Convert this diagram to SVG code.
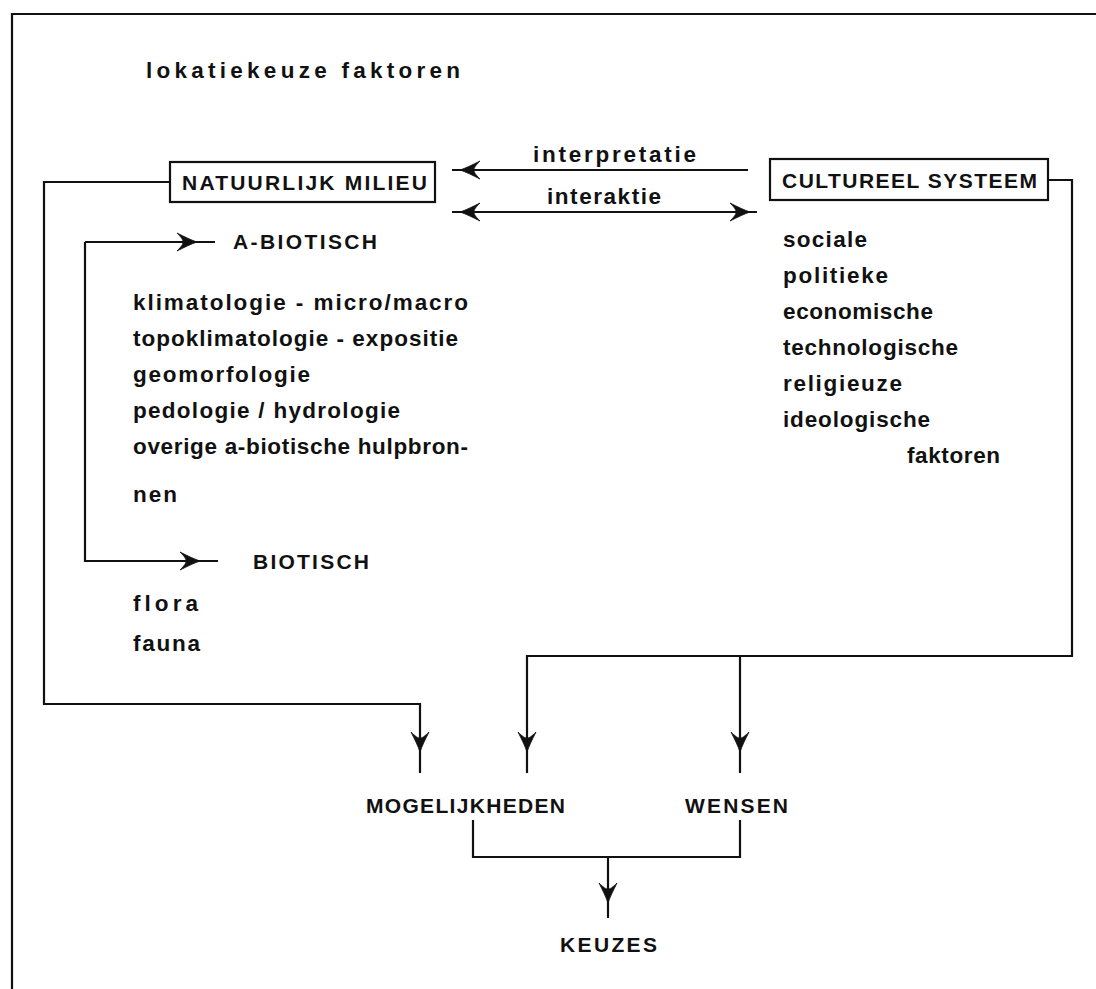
<svg xmlns="http://www.w3.org/2000/svg" xmlns:xlink="http://www.w3.org/1999/xlink" width="1096" height="989" viewBox="0 0 1096 989">
<style>
.t{font-family:"Liberation Sans",Arial,sans-serif;font-weight:bold;font-size:22.5px;fill:#111}
.c{font-size:21px}
.ln{fill:none;stroke:#111;stroke-width:2.2;stroke-linejoin:miter}
.box{fill:#fff;stroke:#111;stroke-width:2.2}
</style>
<defs>
<path id="ah" d="M0,0 C-6,-2 -12,-5 -20,-9 C-15,-4 -14,-2 -14,0 C-14,2 -15,4 -20,9 C-12,5 -6,2 0,0 Z" fill="#111" stroke="#111" stroke-width="0.8"/>
</defs>
<rect width="1096" height="989" fill="#fff"/>
<g id="frame">
<path class="ln" d="M12,989 L12,14 L1096,14" stroke-width="3"/>
</g>
<g id="title"><text class="t" x="146" y="78" font-size="25" textLength="314" lengthAdjust="spacing">lokatiekeuze faktoren</text></g>
<g id="connectors">
<path class="ln" d="M170,182 H44 V704 H420 V773"/>
<path class="ln" d="M1048,180 H1072 V656 H527 V773"/>
<path class="ln" d="M740,656 V773"/>
<path class="ln" d="M748,170 H452"/>
<path class="ln" d="M452,212 H757"/>
<path class="ln" d="M85,242 H215 M85,242 V561 H218"/>
<path class="ln" d="M473,820 V857 H740 V820 M608,857 V918"/>
<use xlink:href="#ah" transform="translate(460,170) rotate(180)"/>
<use xlink:href="#ah" transform="translate(460,212) rotate(180)"/>
<use xlink:href="#ah" transform="translate(750,212)"/>
<use xlink:href="#ah" transform="translate(197,242)"/>
<use xlink:href="#ah" transform="translate(200,561)"/>
<use xlink:href="#ah" transform="translate(420,752) rotate(90)"/>
<use xlink:href="#ah" transform="translate(527,752) rotate(90)"/>
<use xlink:href="#ah" transform="translate(740,752) rotate(90)"/>
<use xlink:href="#ah" transform="translate(608,903) rotate(90)"/>
</g>
<g id="lbl-interpretatie"><text class="t" x="533" y="162" textLength="163" lengthAdjust="spacing">interpretatie</text></g>
<g id="lbl-interaktie"><text class="t" x="547" y="204" textLength="114" lengthAdjust="spacing">interaktie</text></g>
<g id="natuurlijk-milieu">
<rect class="box" x="170" y="162" width="265" height="40"/>
<text class="t c" x="182" y="190" textLength="245" lengthAdjust="spacing">NATUURLIJK  MILIEU</text>
</g>
<g id="cultureel-systeem">
<rect class="box" x="770" y="159" width="278" height="41"/>
<text class="t c" x="782" y="188" textLength="255" lengthAdjust="spacing">CULTUREEL SYSTEEM</text>
</g>
<g id="a-biotisch">
<text class="t c" x="233" y="249" textLength="144" lengthAdjust="spacing">A-BIOTISCH</text>
<text class="t" x="133" y="310" textLength="335" lengthAdjust="spacing">klimatologie - micro/macro</text>
<text class="t" x="133" y="346" textLength="325" lengthAdjust="spacing">topoklimatologie - expositie</text>
<text class="t" x="133" y="382" textLength="177" lengthAdjust="spacing">geomorfologie</text>
<text class="t" x="133" y="418" textLength="267" lengthAdjust="spacing">pedologie / hydrologie</text>
<text class="t" x="133" y="454" textLength="335" lengthAdjust="spacing">overige a-biotische hulpbron-</text>
<text class="t" x="133" y="502" textLength="44" lengthAdjust="spacing">nen</text>
</g>
<g id="biotisch">
<text class="t c" x="253" y="569" textLength="116" lengthAdjust="spacing">BIOTISCH</text>
<text class="t" x="133" y="611" textLength="65" lengthAdjust="spacing">flora</text>
<text class="t" x="133" y="651" textLength="67" lengthAdjust="spacing">fauna</text>
</g>
<g id="cultureel-factoren">
<text class="t" x="783" y="247" textLength="84" lengthAdjust="spacing">sociale</text>
<text class="t" x="783" y="283" textLength="105" lengthAdjust="spacing">politieke</text>
<text class="t" x="783" y="319" textLength="150" lengthAdjust="spacing">economische</text>
<text class="t" x="783" y="355" textLength="175" lengthAdjust="spacing">technologische</text>
<text class="t" x="783" y="391" textLength="119" lengthAdjust="spacing">religieuze</text>
<text class="t" x="783" y="427" textLength="147" lengthAdjust="spacing">ideologische</text>
<text class="t" x="907" y="463" textLength="93" lengthAdjust="spacing">faktoren</text>
</g>
<g id="mogelijkheden"><text class="t c" x="366" y="813" textLength="199" lengthAdjust="spacing">MOGELIJKHEDEN</text></g>
<g id="wensen"><text class="t c" x="685" y="813" textLength="103" lengthAdjust="spacing">WENSEN</text></g>
<g id="keuzes"><text class="t c" x="560" y="952" textLength="97" lengthAdjust="spacing">KEUZES</text></g>
</svg>
